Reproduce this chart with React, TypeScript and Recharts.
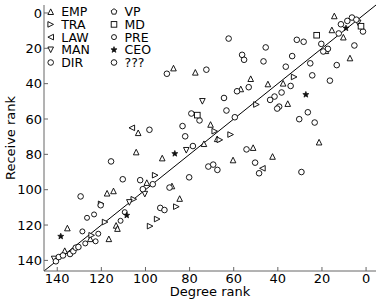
import React from "react"
import { ScatterChart, Scatter, XAxis, YAxis, ReferenceLine } from "recharts"

// [degree rank, receive rank]
const emp = [
  [103.3, 67.8], [87.3, 31.2], [77.4, 33.6], [52.3, 37.2], [56.8, 43], [70.5, 63.1],
  [14.4, 1.7], [15.5, 9.6], [10.3, 13.7], [7.3, 25.5], [44.5, 40.2], [37.6, 39.8],
  [35.5, 51.3], [104.2, 78.7], [92.4, 82.1], [73.5, 74], [99.4, 96], [88, 97.9],
  [84.5, 105], [117.4, 102], [114.5, 100.7], [21.3, 73.1], [51.2, 76.2], [60.3, 83.2],
  [42.4, 81.2], [113.3, 120.2], [112.7, 122], [135.4, 121.7], [136.6, 134.5],
  [116.6, 127.8], [18.2, 21.4], [67.5, 71.2], [125, 127.8],
]
const tra = [
  [61.4, 68.8], [49.7, 51.8], [68.6, 66.9], [32.6, 36.2], [95.6, 91.8], [66.3, 71.8],
  [86, 109.6], [94.7, 116.6], [97.9, 120.6], [105.3, 105.4], [120.1, 108], [118.3, 118.3],
  [124.4, 125.8],
]
const law = [[106.2, 65], [47, 87.9]]
const man = [[74.2, 50], [81.5, 77.7], [100.3, 102.5], [107.3, 107.2], [141.4, 139.2], [3.6, 5.6]]
const dir = [
  [98.2, 66.1], [62.3, 14.5], [45.5, 19.5], [56.2, 23.7], [55.3, 26.5], [46.5, 27.4],
  [90.3, 34.4], [72.4, 32.1], [58.5, 44.3], [53.2, 42], [64.4, 48.1], [63.3, 55.2],
  [79.2, 56.9], [75.5, 60.8], [59.5, 59], [83.2, 64], [82, 69.8], [6.4, 2.6], [8.5, 4.5],
  [4.4, 3.8], [1.4, 10.5], [11.4, 6.4], [12.4, 11.6], [31.4, 15.2], [28.3, 16.3],
  [20.3, 17.5], [5.3, 18.4], [17.3, 20.3], [19.4, 21.8], [33.5, 24.4], [25.3, 28.5],
  [13.3, 29.5], [36.4, 30.4], [24.4, 35.3], [16.4, 38.3], [34.2, 41.3], [38.3, 45],
  [41.5, 47.3], [43.5, 49.2], [39.4, 53], [40.3, 54.1], [26.4, 56.2], [30.3, 60.1],
  [23.3, 62], [115.6, 84], [78.5, 75.3], [71.5, 86.9], [69.3, 85.8], [67.4, 88.8],
  [110.3, 94.1], [102.4, 94.6], [96.7, 96.9], [101.2, 99.7], [80.2, 93], [89.1, 98.8],
  [129.4, 103.8], [93.3, 110.3], [91.4, 111.5], [120.3, 108.8], [54.2, 77.2],
  [50.3, 84.7], [48.5, 90.7], [29.3, 90],
]
const pre = [
  [126.5, 115.9], [123.3, 114], [111.3, 117.6], [109.4, 112.7], [128.6, 123.6],
  [121.4, 124.9], [122.6, 129.2], [127.3, 130.4],
]
const unknown = [
  [140.6, 140.5], [139.3, 138.1], [137.4, 137.2], [134.2, 136.4], [132.7, 134.8],
  [131.6, 132.8], [130.4, 132.4],
]
const ceo = [[9.1, 8.6], [27.3, 46.2], [86.7, 79.6], [108.5, 114.5], [138.4, 126.4]]
const md = [[76.5, 57.8], [22.4, 12.6], [2.3, 7.5]]
const vp: number[][] = []

const ticks = [0, 20, 40, 60, 80, 100, 120, 140]
const domain = [-4.5, 146]

type Kind = "up" | "right" | "left" | "down" | "circle" | "pent" | "square" | "small" | "star"

const series: { name: string; kind: Kind; data: number[][] }[] = [
  { name: "EMP", kind: "up", data: emp },
  { name: "TRA", kind: "right", data: tra },
  { name: "LAW", kind: "left", data: law },
  { name: "MAN", kind: "down", data: man },
  { name: "DIR", kind: "circle", data: dir },
  { name: "VP", kind: "pent", data: vp },
  { name: "MD", kind: "square", data: md },
  { name: "PRE", kind: "small", data: pre },
  { name: "CEO", kind: "star", data: ceo },
  { name: "???", kind: "circle", data: unknown },
]

function Marker({ kind, cx, cy }: { kind: Kind; cx: number; cy: number }) {
  const h = 2.8
  const st = { fill: "#fff", stroke: "#000", strokeWidth: 0.9 }
  const poly = (pts: number[][]) => (
    <polygon points={pts.map(([a, b]) => `${cx + a},${cy + b}`).join(" ")} {...st} />
  )
  switch (kind) {
    case "up":
      return poly([[0, -h], [-h, h], [h, h]])
    case "down":
      return poly([[0, h], [-h, -h], [h, -h]])
    case "right":
      return poly([[h, 0], [-h, -h], [-h, h]])
    case "left":
      return poly([[-h, 0], [h, -h], [h, h]])
    case "square":
      return <rect x={cx - h} y={cy - h} width={2 * h} height={2 * h} {...st} />
    case "small":
      return <circle cx={cx} cy={cy} r={2.5} {...st} />
    case "pent": {
      const pts = [0, 1, 2, 3, 4].map((i) => {
        const a = -Math.PI / 2 + (i * 2 * Math.PI) / 5
        return [3 * Math.cos(a), 3 * Math.sin(a)]
      })
      return poly(pts)
    }
    case "star": {
      const pts = Array.from({ length: 10 }, (_, i) => {
        const a = -Math.PI / 2 + (i * Math.PI) / 5
        const r = i % 2 === 0 ? 3.2 : 1.4
        return [r * Math.cos(a), r * Math.sin(a)]
      })
      return <polygon points={pts.map(([a, b]) => `${cx + a},${cy + b}`).join(" ")} fill="#111" stroke="#000" strokeWidth={0.6} />
    }
    default:
      return <circle cx={cx} cy={cy} r={2.8} {...st} />
  }
}

const font = "DejaVu Sans"
const frame = "#666"

export default function App() {
  const col1 = series.slice(0, 5)
  const col2 = series.slice(5)
  return (
    <div style={{ position: "absolute", left: 0, top: 0, width: 382, height: 306, fontFamily: font }}>
      <ScatterChart width={382} height={306} margin={{ top: 5, right: 6, bottom: 0, left: 0 }}>
        <XAxis
          type="number"
          dataKey="x"
          domain={domain}
          allowDataOverflow
          reversed
          ticks={ticks}
          height={35}
          tickSize={-4}
          tickMargin={7}
          stroke={frame}
          tick={{ fill: "#000", fontSize: 13, fontFamily: font }}
          label={{ value: "Degree rank", position: "insideBottom", offset: 10, fill: "#000", fontSize: 13, fontFamily: font }}
        />
        <XAxis
          xAxisId="top"
          orientation="top"
          type="number"
          domain={domain}
          allowDataOverflow
          reversed
          ticks={ticks}
          height={0}
          tickSize={-4}
          tick={false}
          stroke={frame}
        />
        <YAxis
          type="number"
          dataKey="y"
          domain={domain}
          allowDataOverflow
          reversed
          ticks={ticks}
          width={44}
          tickSize={-4}
          tickMargin={6}
          stroke={frame}
          tick={{ fill: "#000", fontSize: 13, fontFamily: font }}
          label={{
            value: "Receive rank",
            angle: -90,
            position: "insideLeft",
            offset: 10,
            fill: "#000",
            fontSize: 13,
            fontFamily: font,
            style: { textAnchor: "middle" },
          }}
        />
        <YAxis
          yAxisId="right"
          orientation="right"
          type="number"
          domain={domain}
          allowDataOverflow
          reversed
          ticks={ticks}
          width={0}
          tickSize={-4}
          tick={false}
          stroke={frame}
        />
        <ReferenceLine
          segment={[{ x: domain[1], y: domain[1] }, { x: domain[0], y: domain[0] }]}
          stroke="#000"
          strokeWidth={1}
        />
        {series.map((s) => (
          <Scatter
            key={s.name}
            name={s.name}
            data={s.data.map(([x, y]) => ({ x, y }))}
            isAnimationActive={false}
            shape={(props: any) => <Marker kind={s.kind} cx={props.cx} cy={props.cy} />}
          />
        ))}
      </ScatterChart>
      <svg width={382} height={306} style={{ position: "absolute", left: 0, top: 0, pointerEvents: "none" }}>
        {[col1, col2].map((col, ci) =>
          col.map((s, i) => {
            const cy = 11.7 + i * 12.7
            const mx = ci === 0 ? 50.7 : 114
            return (
              <g key={s.name}>
                <Marker kind={s.kind} cx={mx} cy={cy} />
                <text x={mx + 10.5} y={cy + 4.5} fontSize={12.5} fontFamily={font} fill="#000">
                  {s.name}
                </text>
              </g>
            )
          })
        )}
      </svg>
    </div>
  )
}
